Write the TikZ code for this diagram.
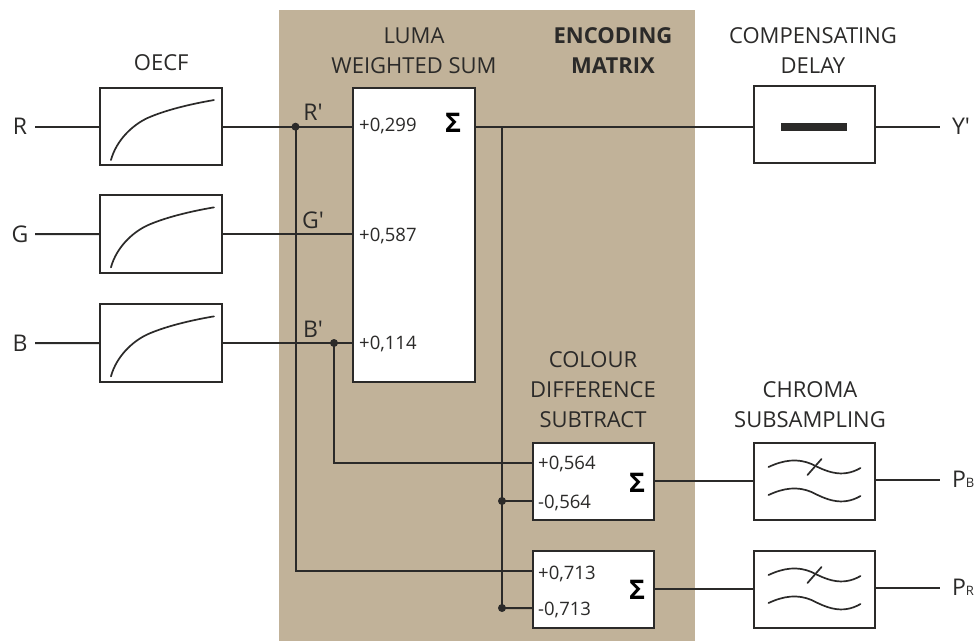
\documentclass[tikz,border=0pt]{standalone}
\usepackage{fontspec}
\setmainfont{Open Sans}
\usepackage{xcolor}
\usetikzlibrary{positioning, calc}
\definecolor{mytan}{HTML}{C1B299}
\definecolor{myink}{HTML}{2B2A29}

\begin{document}
\begin{tikzpicture}[
  x=1pt, y=-1pt,
  node distance=30pt and 131pt,
  box/.style={rectangle, draw=myink, fill=white, line width=2pt, inner sep=0pt, outer sep=0pt,
    minimum width=121.5pt, minimum height=77.3pt},
  title/.style={align=center, inner sep=0pt, text=myink, font=\fontsize{22}{30}\selectfont},
  coef/.style={inner sep=0pt, anchor=west, text=myink, font=\fontsize{18.5}{22}\selectfont},
  sigma/.style={inner sep=0pt, text=black, font=\fontsize{27}{30}\bfseries\selectfont},
  inlabel/.style={minimum width=30pt, inner sep=0pt, outer sep=0pt, text=myink, font=\fontsize{23}{24}\selectfont},
  outlabel/.style={anchor=west, inner sep=0pt, inner xsep=12pt, outer sep=0pt, text=myink, font=\fontsize{23}{24}\selectfont},
  primelabel/.style={inner sep=0pt, text=myink, font=\fontsize{23}{24}\selectfont},
  dotnode/.style={circle, fill=myink, inner sep=0pt, minimum size=8pt},
  arr/.style={draw=myink, line width=2pt},
  curve/.style={draw=myink, line width=1.7pt, line cap=round}
]
\useasboundingbox (0,0) rectangle (976,641);
\fill[mytan] (279,10) rectangle (695,641);

% colour channels
\node[box] (oecfr) at (161.2,126.7) {};
\node[box, below=30pt of oecfr] (oecfg) {};
\node[box, below=31.7pt of oecfg] (oecfb) {};
\node[inlabel] (inr) at (20,126.7) {R};
\node[inlabel] (ing) at (20,234) {G};
\node[inlabel] (inb) at (20,343) {B};

% matrix
\node[box, minimum height=293.7pt] (luma) at (414,234.8) {};
\node[box, anchor=north west] (diffb) at (532.5,443) {};
\node[box, below=30.7pt of diffb] (diffr) {};
\node[box, anchor=north west] (delay) at (753.5,85.5) {};
\node[box, anchor=north west] (chromab) at (753.5,443) {};
\node[box, below=30.7pt of chromab] (chromar) {};

\coordinate (lumar) at (luma.west |- oecfr.east);
\coordinate (lumag) at (luma.west |- oecfg.east);
\coordinate (lumab) at (luma.west |- oecfb.east);
\coordinate (lumaout) at (luma.east |- oecfr.east);
\coordinate (diffbp) at ($(diffb.north west)+(0,19.5)$);
\coordinate (diffbm) at ($(diffb.north west)+(0,58)$);
\coordinate (diffrp) at ($(diffr.north west)+(0,20)$);
\coordinate (diffrm) at ($(diffr.north west)+(0,57)$);
\coordinate (diffbout) at ($(diffb.east)+(0,-0.5)$);
\coordinate (diffrout) at ($(diffr.east)+(0,-0.5)$);
\node[rectangle, fill=myink, minimum width=66pt, minimum height=8pt, inner sep=0pt] (delaybar) at (delay.center |- lumaout) {};

\node[dotnode] (juncr) at (295.5,126.7) {};
\node[dotnode] (juncb) at (334,343) {};
\node[dotnode] (juncy) at (502,501) {};
\node[dotnode] (juncz) at (502,608) {};

\node[outlabel] (outy) at (940,126.7) {Y′};
\node[outlabel] (outb) at (940,479.5) {P{\fontsize{13}{14}\selectfont B}};
\node[outlabel] (outp) at (940,587.5) {P{\fontsize{13}{14}\selectfont R}};

% wires
\draw[arr] (inr.east) -- (oecfr.west);
\draw[arr] (ing.east) -- (oecfg.west);
\draw[arr] (inb.east) -- (oecfb.west);
\draw[arr] (oecfr.east) -- (lumar);
\draw[arr] (oecfg.east) -- (lumag);
\draw[arr] (oecfb.east) -- (lumab);
\draw[arr] (juncr.center) |- (diffrp);
\draw[arr] (juncb.center) |- (diffbp);
\draw[arr] (lumaout) -- (lumaout -| delay.west);
\draw[arr] (juncy.center |- lumaout) -- (juncz.center);
\draw[arr] (juncy.center) -- (diffbm);
\draw[arr] (juncz.center) -- (diffrm);
\draw[arr] (diffbout) -- (diffbout -| chromab.west);
\draw[arr] (diffrout) -- (diffrout -| chromar.west);
\draw[arr] (lumaout -| delay.east) -- (outy.west);
\draw[arr] (outb.west -| chromab.east) -- (outb.west);
\draw[arr] (outp.west -| chromar.east) -- (outp.west);

% transfer curves and filters
\foreach \n in {oecfr,oecfg,oecfb}
  \draw[curve, shift={(\n.north west)}] (10.5,72) .. controls (16,52) and (32,37) .. (47,30)
    .. controls (65,22) and (90,16) .. (113.5,12);
\foreach \n in {chromab,chromar} {
  \draw[curve, shift={(\n.north west)}] (15,24) .. controls (30,17) and (44,15) .. (58,21)
    .. controls (72,28) and (88,36) .. (107,25);
  \draw[curve, shift={(\n.north west)}] (15,52) .. controls (30,45) and (44,43) .. (58,49)
    .. controls (72,56) and (88,64) .. (107,53);
  \draw[curve, shift={(\n.north west)}] (54,32) -- (68,16);
}

% labels
\node[title, above=17pt of oecfr] (oecftitle) {OECF};
\node[title] (lumatitle) at (414,51) {LUMA\\WEIGHTED SUM};
\node[title, font=\fontsize{22}{30}\bfseries\selectfont] (matrixtitle) at (613,51) {ENCODING\\MATRIX};
\node[title] (delaytitle) at (813,51) {COMPENSATING\\DELAY};
\node[title] (difftitle) at (593,390) {COLOUR\\DIFFERENCE\\SUBTRACT};
\node[title] (chromatitle) at (810,405) {CHROMA\\SUBSAMPLING};
\node[primelabel] (rprime) at (313,112) {R′};
\node[primelabel] (gprime) at (313,220) {G′};
\node[primelabel] (bprime) at (313,329) {B′};
\node[coef] (coefr) at (359,126) {+0,299};
\node[coef] (coefg) at (359,236) {+0,587};
\node[coef] (coefb) at (359,344) {+0,114};
\node[coef] (coefbp) at (538,464) {+0,564};
\node[coef] (coefbm) at (538,503) {-0,564};
\node[coef] (coefrp) at (538,574) {+0,713};
\node[coef] (coefrm) at (538,610) {-0,713};
\node[sigma] (sigmay) at (453,123) {Σ};
\node[sigma] (sigmab) at (637,483) {Σ};
\node[sigma] (sigmar) at (637,590) {Σ};
\end{tikzpicture}
\end{document}
